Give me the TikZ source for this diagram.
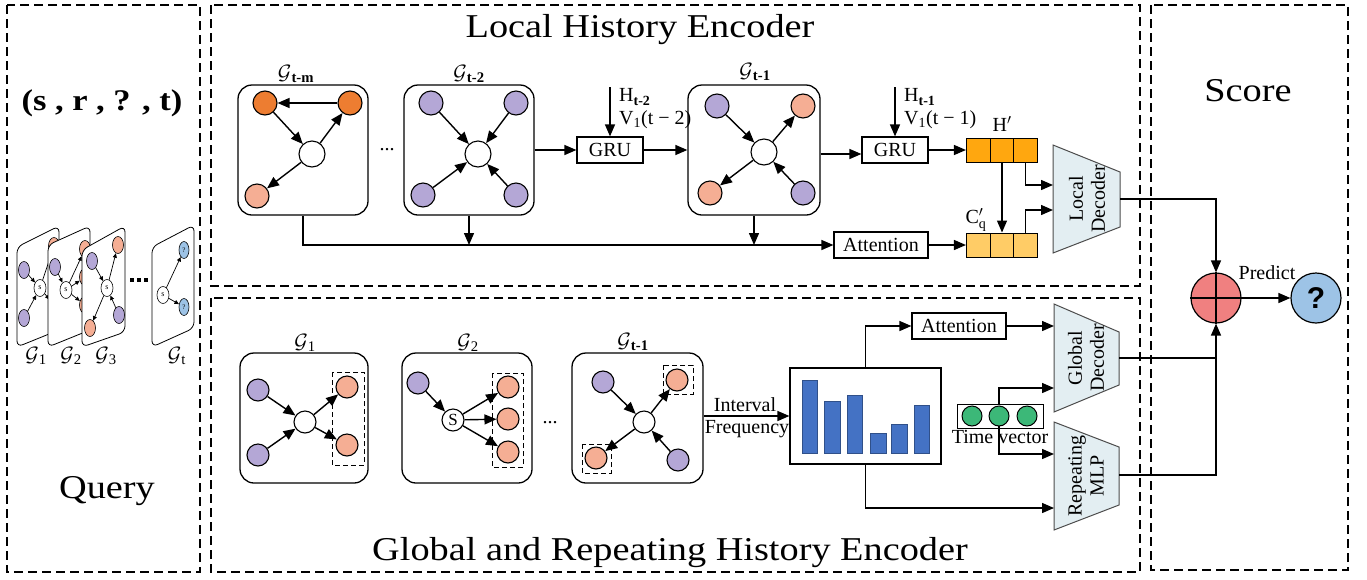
\documentclass[tikz,border=0pt]{standalone}
\usepackage{fontspec}
\usepackage{amsmath}
\setmainfont{Liberation Serif}
\newfontfamily\titlefont[FakeStretch=1.15]{Liberation Serif}
\setsansfont{Liberation Sans}
\usetikzlibrary{arrows.meta,calc,shapes.geometric}
\definecolor{dorange}{HTML}{ED7D31}
\definecolor{salmon}{HTML}{F5AE94}
\definecolor{purp}{HTML}{B4A7D6}
\definecolor{horange}{HTML}{FFA70F}
\definecolor{corange}{HTML}{FFCC66}
\definecolor{decfill}{HTML}{E3EEF2}
\definecolor{plusred}{HTML}{F08080}
\definecolor{qblue}{HTML}{9DC3E6}
\definecolor{barblue}{HTML}{4472C4}
\definecolor{tgreen}{HTML}{3CB878}
\tikzset{
 panel/.style={draw, line width=1.2pt, dash pattern=on 9pt off 5pt},
 gbox/.style={draw, rounded corners=14pt, line width=1.3pt, minimum width=130pt, minimum height=130pt, inner sep=0pt},
 vn/.style={circle, draw, line width=1.1pt, minimum size=24pt, inner sep=0pt},
 pnode/.style={vn, fill=purp}, snode/.style={vn, fill=salmon}, onode/.style={vn, fill=dorange},
 cnode/.style={vn, fill=white, minimum size=26pt},
 gsz/.style={minimum size=22pt},
 arr/.style={-{Triangle[length=12pt,width=10pt]}, line width=1.4pt},
 rbox/.style={draw, line width=1.2pt, inner sep=0pt, minimum height=26pt, font=\fontsize{20}{22}\selectfont},
 lbl/.style={inner sep=0pt, font=\fontsize{20}{22}\selectfont},
 glbl/.style={inner sep=0pt, font=\fontsize{21}{24}\selectfont},
 cell/.style={draw, line width=1pt, minimum width=23.7pt, minimum height=24pt, inner sep=0pt},
 dec/.style={draw=black!70, fill=decfill, line width=1pt},
 dbox/.style={draw, dash pattern=on 5pt off 3pt, line width=1pt},
 ttl/.style={inner sep=0pt, font=\titlefont\fontsize{33.3}{38}\selectfont, anchor=base},
 card/.style={draw, fill=white, line width=0.8pt, rounded corners=6pt},
 qv/.style={ellipse, draw, line width=0.6pt, minimum width=11pt, minimum height=17pt, inner sep=0pt},
 qp/.style={qv, fill=purp}, qs/.style={qv, fill=salmon}, qb/.style={qv, fill=qblue, minimum width=10pt, font=\fontsize{7}{7}\selectfont},
 qc/.style={qv, fill=white, minimum width=12pt, minimum height=17pt, font=\fontsize{8}{8}\selectfont},
 qarr/.style={-{Triangle[length=4.5pt,width=4pt]}, line width=0.7pt},
 bar/.style={draw=barblue!70!black, fill=barblue, line width=0.8pt},
}
\begin{document}
\begin{tikzpicture}[x=1pt,y=-1pt]
\useasboundingbox (0,0) rectangle (1367,579);
% panels
\draw[panel] (7,5) rectangle (200,572);
\draw[panel] (211,5) rectangle (1140,286);
\draw[panel] (211,298) rectangle (1140,572);
\draw[panel] (1151,5) rectangle (1348,570);
% titles
\node[ttl, font=\titlefont\bfseries\fontsize{30}{38}\selectfont] (qtxt) at (102,110) {(s , r , ? , t)};
\node[ttl] (qry) at (107,498) {Query};
\node[ttl] (lhe) at (640,37) {Local History Encoder};
\node[ttl] (ghe) at (670,560) {Global and Repeating History Encoder};
\node[ttl] (scr) at (1248,101) {Score};

% ---------- query cards ----------
\draw[card] (17,247) -- (59,226) -- (59,330) -- (17,347) -- cycle;
\node[qp] (q1a) at (24,270) {};
\node[qp] (q1b) at (24,318) {};
\node[qc] (q1s) at (40,288) {s};
\node[qs] (q1c) at (54,246) {};
\node[qs] (q1d) at (54,305) {};
\draw[qarr] (q1a) -- (q1s); \draw[qarr] (q1b) -- (q1s);
\draw[qarr] (q1s) -- (q1c); \draw[qarr] (q1s) -- (q1d);

\draw[card] (48,245) -- (90,226) -- (90,330) -- (48,347) -- cycle;
\node[qp] (q2a) at (55,267) {};
\node[qc] (q2s) at (66,290) {s};
\node[qs] (q2b) at (85,249) {};
\node[qs] (q2c) at (85,277) {};
\node[qs] (q2d) at (85,305) {};
\draw[qarr] (q2a) -- (q2s); \draw[qarr] (q2s) -- (q2b);
\draw[qarr] (q2s) -- (q2c); \draw[qarr] (q2s) -- (q2d);

\draw[card] (82,250) -- (125,226) -- (125,332) -- (82,347) -- cycle;
\node[qp] (q3a) at (92,261) {};
\node[qs] (q3b) at (118,245) {};
\node[qc] (q3s) at (107,288) {s};
\node[qp] (q3c) at (119,315) {};
\node[qs] (q3d) at (90,328) {};
\draw[qarr] (q3a) -- (q3s); \draw[qarr] (q3s) -- (q3b);
\draw[qarr] (q3c) -- (q3s); \draw[qarr] (q3s) -- (q3d);

\fill (130,282) rectangle +(4,-4); \fill (137,282) rectangle +(4,-4); \fill (144,282) rectangle +(4,-4);

\draw[card] (152,247) -- (194,225) -- (194,328) -- (152,347) -- cycle;
\node[qc] (qts) at (163,295) {s};
\node[qb] (qta) at (184,250) {?};
\node[qb] (qtb) at (184,307) {?};
\draw[qarr] (qts) -- (qta); \draw[qarr] (qts) -- (qtb);

\node[glbl] (l1) at (36,356) {$\mathcal{G}$\textsubscript{1}};
\node[glbl] (l2) at (71,356) {$\mathcal{G}$\textsubscript{2}};
\node[glbl] (l3) at (106,356) {$\mathcal{G}$\textsubscript{3}};
\node[glbl] (lt) at (177,356) {$\mathcal{G}$\textsubscript{t}};

% ---------- local history encoder ----------
\node[gbox] (abox) at (303,150) {};
\node[glbl] at (296,74) {$\mathcal{G}$\textsubscript{\textbf{t-m}}};
\node[onode] (a1) at (265,103) {};
\node[onode] (a2) at (350,103) {};
\node[cnode] (ac) at (312,154) {};
\node[snode] (a3) at (257,196) {};
\draw[arr] (a2) -- (a1); \draw[arr] (a1) -- (ac);
\draw[arr] (ac) -- (a2); \draw[arr] (ac) -- (a3);

\node[lbl] (dots1) at (387,150) {...};

\node[gbox] (bbox) at (469,150) {};
\node[glbl] at (469,74) {$\mathcal{G}$\textsubscript{\textbf{t-2}}};
\node[pnode] (b1) at (431,103) {};
\node[pnode] (b2) at (516,103) {};
\node[cnode] (bc) at (478,154) {};
\node[pnode] (b3) at (423,195) {};
\node[pnode] (b4) at (516,195) {};
\draw[arr] (b1) -- (bc); \draw[arr] (b2) -- (bc);
\draw[arr] (b3) -- (bc); \draw[arr] (b4) -- (bc);

\node[rbox, minimum width=66pt] (gru1) at (610,150) {GRU};
\coordinate (g1in) at (610,87);
\draw[arr] (g1in) -- (gru1.north);
\node[lbl, anchor=west] (ht2) at (619,97) {H\textsubscript{\textbf{t-2}}};
\node[lbl, anchor=west] (vt2) at (619,120) {V\textsubscript{1}(t − 2)};
\draw[arr] (bbox.east) -- (gru1.west);

\node[gbox, minimum width=132pt] (cbox) at (754,150) {};
\node[glbl] at (755,72) {$\mathcal{G}$\textsubscript{\textbf{t-1}}};
\node[pnode] (c1) at (717,106) {};
\node[snode] (c2) at (803,106) {};
\node[cnode] (cc) at (764,152) {};
\node[snode] (c3) at (710,193) {};
\node[pnode] (c4) at (803,193) {};
\draw[arr] (c1) -- (cc); \draw[arr] (cc) -- (c2);
\draw[arr] (cc) -- (c3); \draw[arr] (c4) -- (cc);
\draw[arr] (gru1.east) -- (cbox.west);

\node[rbox, minimum width=66pt] (gru2) at (895,150) {GRU};
\coordinate (g2in) at (895,87);
\draw[arr] (g2in) -- (gru2.north);
\node[lbl, anchor=west] (ht1) at (904,97) {H\textsubscript{\textbf{t-1}}};
\node[lbl, anchor=west] (vt1) at (904,120) {V\textsubscript{1}(t − 1)};
\draw[arr] ([yshift=-4pt]cbox.east) -- ([yshift=-4pt]gru2.west);

\node[cell, fill=horange] (h1) at (978.3,150) {};
\node[cell, fill=horange] (h2) at (1002,150) {};
\node[cell, fill=horange] (h3) at (1025.7,150) {};
\node[lbl] (hlab) at (1002,124) {H$'$};
\draw[arr] (gru2.east) -- (h1.west);

\node[cell, fill=corange] (k1) at (978.3,245) {};
\node[cell, fill=corange] (k2) at (1002,245) {};
\node[cell, fill=corange] (k3) at (1025.7,245) {};
\node[lbl] (klab) at (976,220) {C$'_{\text{q}}$};
\draw[arr] (h2.south) -- (k2.north);

\node[rbox, minimum width=94pt] (lat) at (881,245) {Attention};
\draw[arr] (lat.east) -- (k1.west);
\draw[arr] (abox.south) |- (lat.west);
\draw[arr] (bbox.south) -- (bbox.south |- lat.west);
\draw[arr] (cbox.south) -- (cbox.south |- lat.west);

% local decoder
\draw[dec] (1053,145) -- (1120,172) -- (1120,227) -- (1053,253) -- cycle;
\node[lbl, rotate=90, align=center] (ldec) at (1087,199) {Local\\Decoder};
\coordinate (ld1) at (1053,185);
\coordinate (ld2) at (1053,210);
\coordinate (ldo) at (1120,199);
\draw[arr] (h3.south) |- (ld1);
\draw[arr] (k3.north) |- (ld2);

% ---------- score ----------
\node[circle, draw, line width=1.2pt, fill=plusred, minimum size=50pt, inner sep=0pt] (plus) at (1216,298) {};
\draw[line width=1.2pt] (plus.north) -- (plus.south);
\draw[line width=1.2pt] (plus.west) -- (plus.east);
\node[circle, draw, line width=1.2pt, fill=qblue, minimum size=50pt, inner sep=0pt, font=\sffamily\bfseries\fontsize{30}{30}\selectfont] (ans) at (1316,298) {?};
\draw[arr] (plus.east) -- (ans.west);
\node[lbl] (pred) at (1267,273) {Predict};
\draw[arr] (ldo) -| (plus.north);

% ---------- global encoder ----------
\node[gbox, minimum width=128pt] (dbox) at (304,418) {};
\node[glbl] at (305,343) {$\mathcal{G}$\textsubscript{1}};
\draw[dbox] (332,372) rectangle (364,465);
\node[pnode, gsz] (d1) at (258,390) {};
\node[pnode, gsz] (d2) at (258,455) {};
\node[cnode, gsz] (dc) at (305,422) {};
\node[snode, gsz] (d3) at (347,387) {};
\node[snode, gsz] (d4) at (347,445) {};
\draw[arr] (d1) -- (dc); \draw[arr] (d2) -- (dc);
\draw[arr] (dc) -- (d3); \draw[arr] (dc) -- (d4);

\node[gbox] (ebox) at (467,418) {};
\node[glbl] at (468,343) {$\mathcal{G}$\textsubscript{2}};
\draw[dbox] (492,373) rectangle (523,467);
\node[pnode, gsz] (e1) at (418,383) {};
\node[cnode, gsz, font=\fontsize{17}{17}\selectfont] (ec) at (453,420) {S};
\node[snode, gsz] (e2) at (508,387) {};
\node[snode, gsz] (e3) at (508,419) {};
\node[snode, gsz] (e4) at (508,452) {};
\draw[arr] (e1) -- (ec); \draw[arr] (ec) -- (e2);
\draw[arr] (ec) -- (e3); \draw[arr] (ec) -- (e4);

\node[lbl] (dots2) at (550,423) {...};

\node[gbox, minimum width=131pt] (fbox) at (637.5,418) {};
\node[glbl] at (633,342) {$\mathcal{G}$\textsubscript{\textbf{t-1}}};
\draw[dbox] (663,365) rectangle (693,394);
\draw[dbox] (582,444) rectangle (611,473);
\node[pnode, gsz] (f1) at (603,382) {};
\node[snode, gsz] (f2) at (677,380) {};
\node[cnode, gsz] (fc) at (644,422) {};
\node[snode, gsz] (f3) at (596,458) {};
\node[pnode, gsz] (f4) at (678,460) {};
\draw[arr] (f1) -- (fc); \draw[arr] (fc) -- (f2);
\draw[arr] (fc) -- (f3); \draw[arr] (f4) -- (fc);

% histogram
\node[draw, line width=1.2pt, minimum width=151pt, minimum height=96pt, inner sep=0pt] (hist) at (865.5,416) {};
\draw[bar] (802,380) rectangle (817,453);
\draw[bar] (824,401) rectangle (840,453);
\draw[bar] (847,395) rectangle (862,453);
\draw[bar] (870,433) rectangle (886,453);
\draw[bar] (891,424) rectangle (907,453);
\draw[bar] (914,405) rectangle (929,453);
\draw[arr] (fbox.east |- hist.west) -- (hist.west);
\node[lbl] (intv) at (745,405) {Interval};
\node[lbl] (freq) at (747,429) {Frequency};

% global attention
\node[rbox, minimum width=94pt] (gat) at (959,326) {Attention};
\draw[arr] (hist.north) |- (gat.west);

% global decoder
\draw[dec] (1054,304) -- (1119,332) -- (1119,385) -- (1054,412) -- cycle;
\node[lbl, rotate=90, align=center] (gdec) at (1086,358) {Global\\Decoder};
\coordinate (gd1) at (1054,326);
\coordinate (gd2) at (1054,388);
\coordinate (gdo) at (1119,358);
\draw[arr] (gat.east) -- (gd1);

% repeating MLP
\draw[dec] (1054,422) -- (1119,447) -- (1119,505) -- (1054,530) -- cycle;
\node[lbl, rotate=90, align=center] (mlp) at (1086,476) {Repeating\\MLP};
\coordinate (mp1) at (1054,508);
\coordinate (mp2) at (1054,454);
\coordinate (mo) at (1119,475);
\draw[arr] (hist.south) |- (mp1);

% time vector
\node[draw, line width=1pt, minimum width=86pt, minimum height=24pt, inner sep=0pt] (tv) at (1000,416) {};
\node[lbl] (tvl) at (1000,437) {Time vector};
\draw[arr] (tv.north -| 999,0) |- (gd2);
\draw[arr] (999,420) |- (mp2);
\node[circle, draw, line width=1pt, fill=tgreen, minimum size=20pt, inner sep=0pt] (t1) at (972,416) {};
\node[circle, draw, line width=1pt, fill=tgreen, minimum size=20pt, inner sep=0pt] (t2) at (999,416) {};
\node[circle, draw, line width=1pt, fill=tgreen, minimum size=20pt, inner sep=0pt] (t3) at (1027,416) {};

% to score
\draw[line width=1.4pt] (gdo) -- (gdo -| plus.south);
\draw[arr] (mo) -| (plus.south);
\end{tikzpicture}
\end{document}
